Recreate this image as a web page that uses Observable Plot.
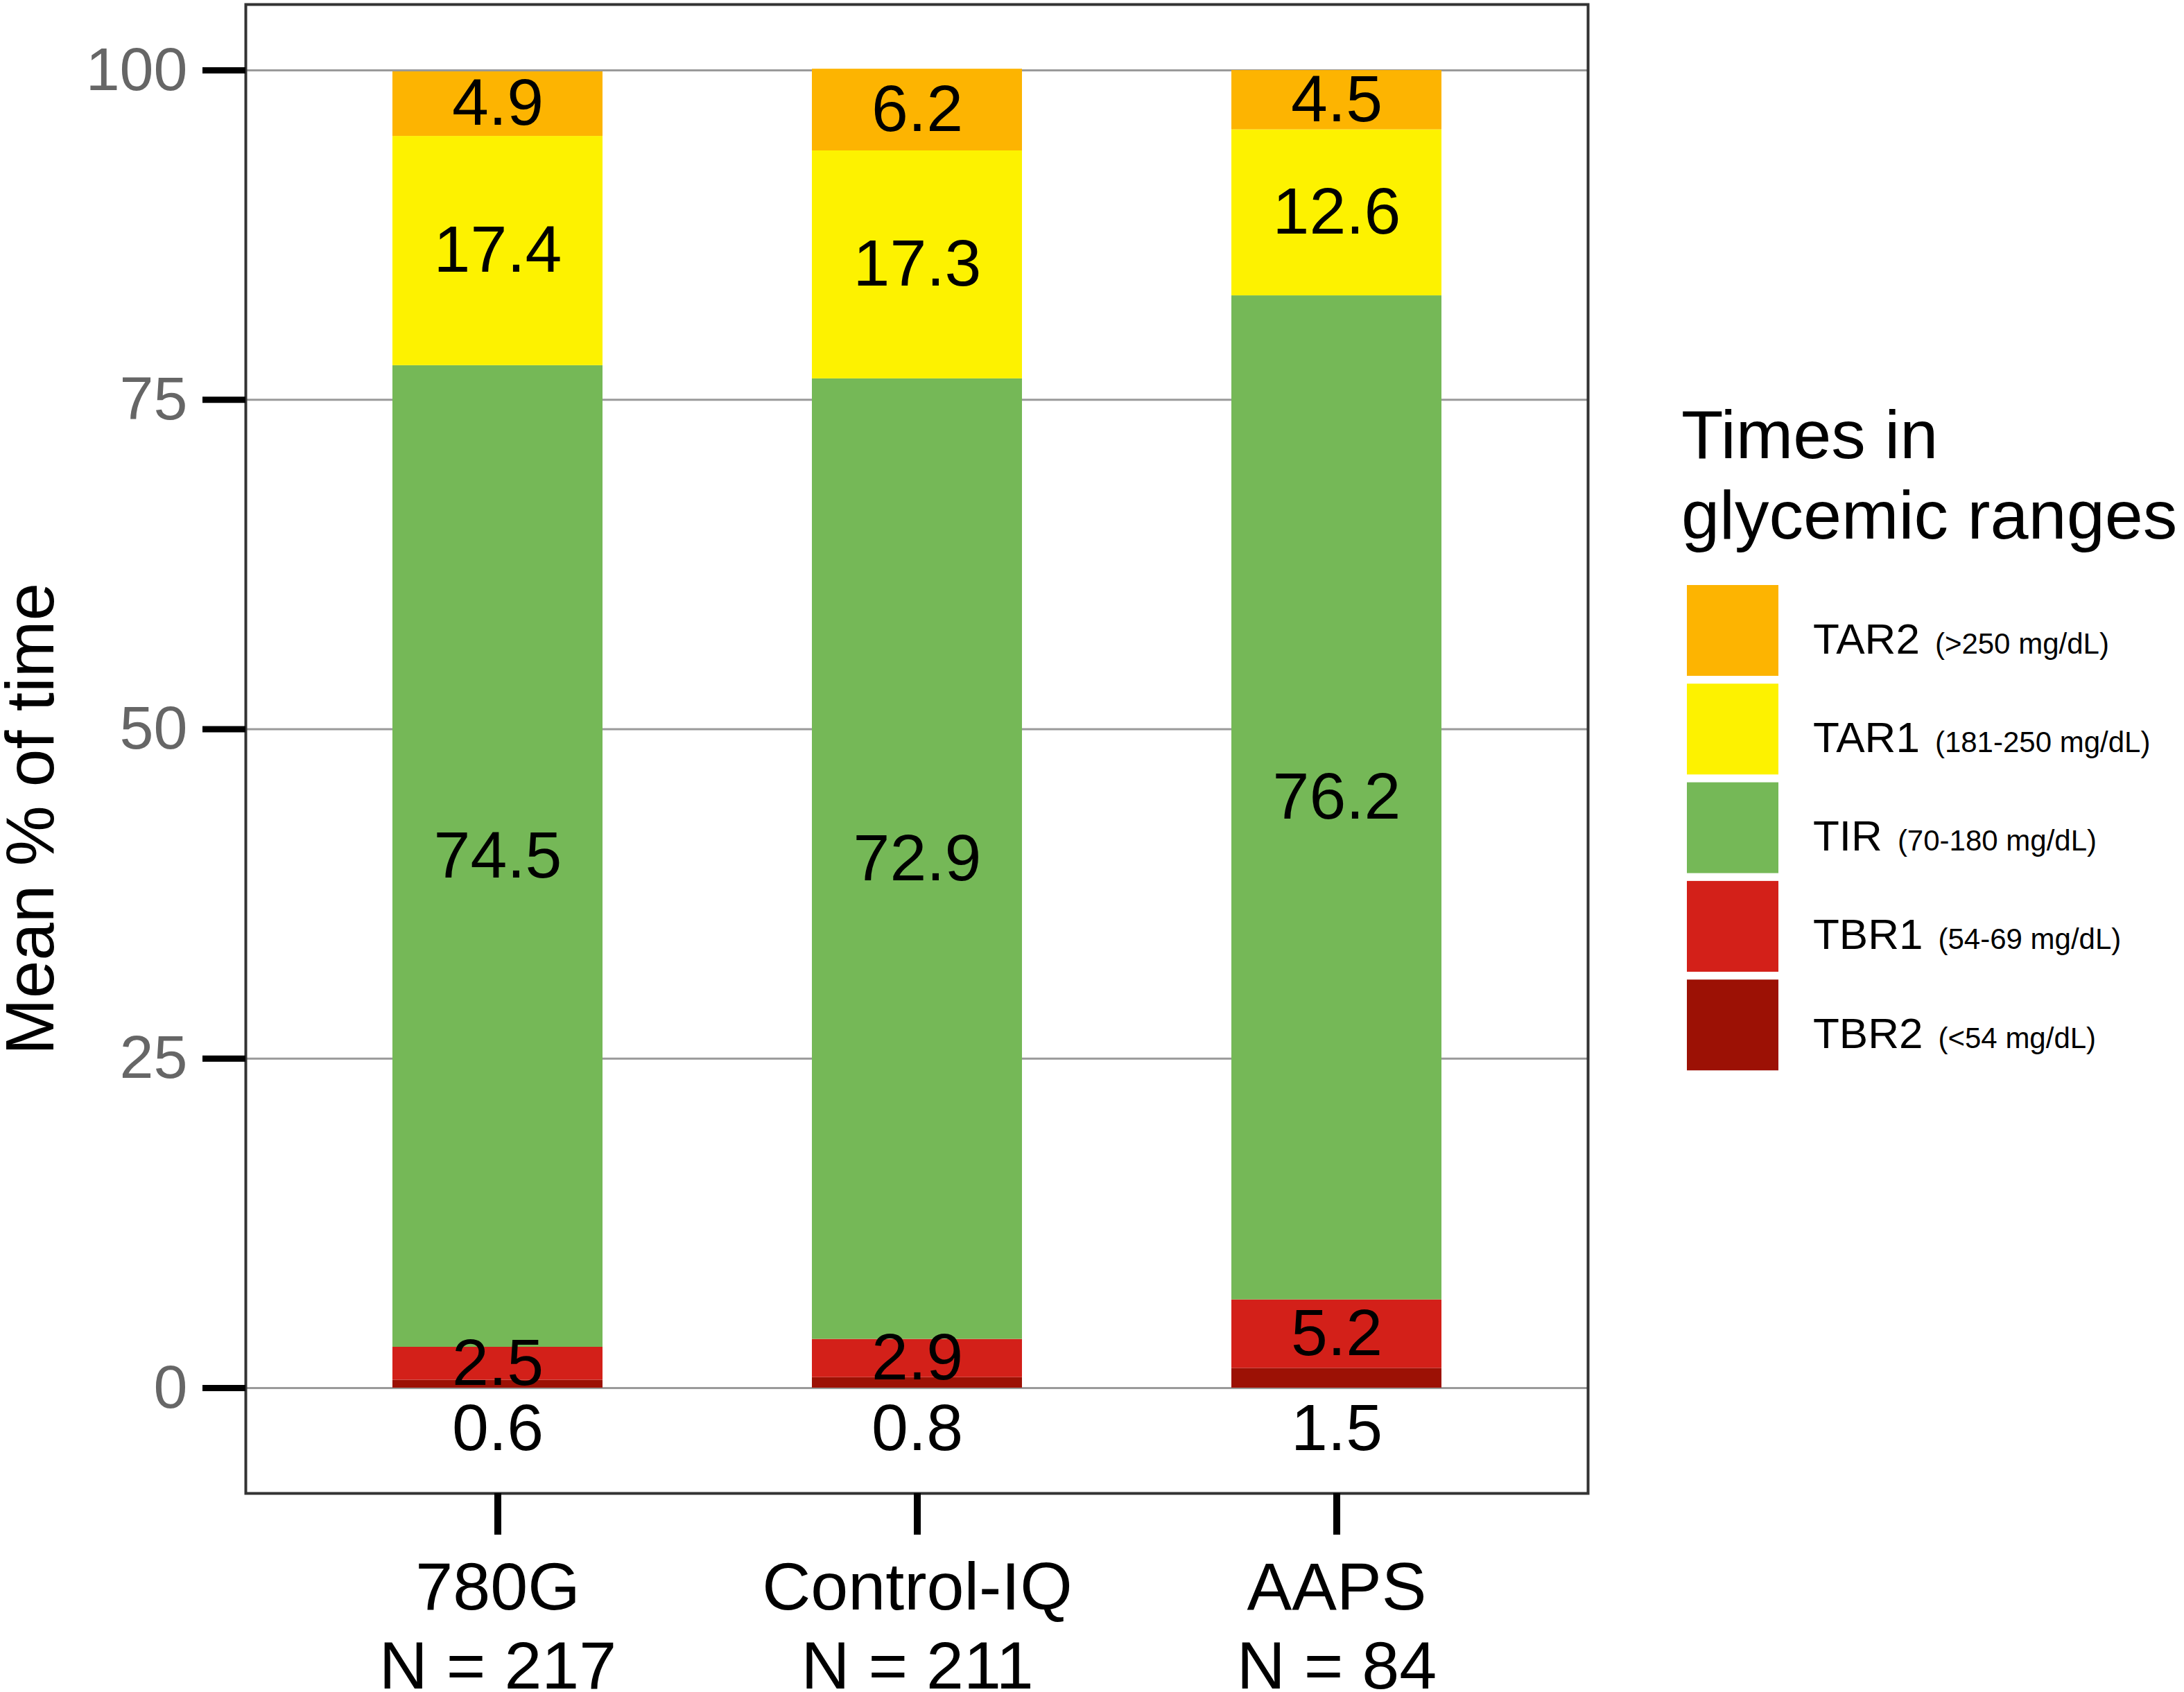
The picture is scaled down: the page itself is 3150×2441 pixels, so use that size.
<!DOCTYPE html>
<html>
<head>
<meta charset="utf-8">
<script src="https://cdn.jsdelivr.net/npm/d3@7"></script>
<script src="https://cdn.jsdelivr.net/npm/@observablehq/plot@0.6"></script>
<style>
  html, body { margin: 0; padding: 0; background: #ffffff; }
  #wrap { position: relative; width: 3150px; height: 2441px; overflow: hidden; background: #ffffff; }
  #wrap svg { position: absolute; left: 0; top: 0; }
</style>
</head>
<body>
<div id="wrap"></div>
<script>
// ---- data ----
const devices = ["780G", "Control-IQ", "AAPS"];
const sampleSizes = [217, 211, 84];
const ranges = ["TBR2", "TBR1", "TIR", "TAR1", "TAR2"];
const rangeNotes = ["(<54 mg/dL)", "(54-69 mg/dL)", "(70-180 mg/dL)", "(181-250 mg/dL)", "(>250 mg/dL)"];
const rangeColors = ["#9c1105", "#d32019", "#75b857", "#fdf200", "#fdb401"];
const tbr2 = [0.6, 0.8, 1.5];
const tbr1 = [2.5, 2.9, 5.2];
const tir  = [74.5, 72.9, 76.2];
const tar1 = [17.4, 17.3, 12.6];
const tar2 = [4.9, 6.2, 4.5];
const yTicks = [0, 25, 50, 75, 100];
const yLabel = "Mean % of time";
const legendTitle = ["Times in", "glycemic ranges"];

const seriesByRange = {TBR2: tbr2, TBR1: tbr1, TIR: tir, TAR1: tar1, TAR2: tar2};
const data = [];
devices.forEach((device, i) => {
  ranges.forEach(range => data.push({device, range, value: seriesByRange[range][i]}));
});

const FONT = "'Liberation Sans', Arial, Helvetica, sans-serif";

const chart = Plot.plot({
  width: 3150,
  height: 2441,
  marginLeft: 354,
  marginRight: 860,
  marginTop: 6,
  marginBottom: 287,
  style: {fontFamily: FONT, background: "transparent", color: "black", overflow: "visible"},
  x: {type: "band", domain: devices, paddingInner: 0.5, paddingOuter: 0.35, axis: null},
  y: {domain: [-8, 105], axis: null},
  color: {domain: ranges, range: rangeColors},
  marks: [
    Plot.gridY(yTicks, {stroke: "#9a9a9a", strokeWidth: 3, strokeOpacity: 1}),
    Plot.barY(data, {x: "device", y: "value", fill: "range"}),
    Plot.text(data, Plot.stackY({
      x: "device", y: "value", z: "range",
      text: d => d.range === "TBR2" ? null : d.value.toFixed(1),
      fontSize: 95, fill: "black"
    })),
    Plot.text(data, Plot.stackY1({
      x: "device", y: "value", z: "range",
      text: d => d.range === "TBR2" ? d.value.toFixed(1) : null,
      dy: 59, fontSize: 95, fill: "black"
    })),
    Plot.frame({stroke: "#333333", strokeWidth: 4}),
    Plot.axisY(yTicks, {
      tickSize: 62, tickPadding: 22, stroke: "black", strokeWidth: 9,
      fill: "#666666", fontSize: 88, label: null
    }),
    Plot.axisX({
      tickSize: 60, tickPadding: 26, stroke: "black", strokeWidth: 10,
      fill: "black", fontSize: 97, lineHeight: 1.18, label: null,
      tickFormat: d => `${d}\nN = ${sampleSizes[devices.indexOf(d)]}`
    }),
    Plot.text([yLabel], {
      text: d => d, frameAnchor: "left", textAnchor: "middle", lineAnchor: "middle",
      rotate: -90, dx: -309, dy: 101, fontSize: 98, fill: "black"
    })
  ]
});

const wrap = document.getElementById("wrap");
wrap.appendChild(chart);

// ---- legend (built from the chart's colour scale) ----
const color = chart.scale("color");
const legendItems = color.domain.map((r, i) => ({range: r, note: rangeNotes[i], fill: color.range[i]})).reverse();

const legend = d3.create("svg")
  .attr("width", 3150).attr("height", 2441)
  .style("font-family", FONT);

legend.selectAll("text.title").data(legendTitle).join("text")
  .attr("class", "title")
  .attr("x", 2425)
  .attr("y", (d, i) => 661 + i * 116)
  .attr("font-size", 99)
  .attr("fill", "black")
  .text(d => d);

const item = legend.selectAll("g.item").data(legendItems).join("g")
  .attr("class", "item")
  .attr("transform", (d, i) => `translate(2433,${844 + i * 142.3})`);

item.append("rect")
  .attr("width", 132).attr("height", 131)
  .attr("fill", d => d.fill);

const lab = item.append("text")
  .attr("x", 182).attr("y", 98.5)
  .attr("fill", "black");
lab.append("tspan").attr("font-size", 62).text(d => d.range);
lab.append("tspan").attr("font-size", 42).attr("dx", 22).text(d => d.note);

wrap.appendChild(legend.node());
</script>
</body>
</html>
